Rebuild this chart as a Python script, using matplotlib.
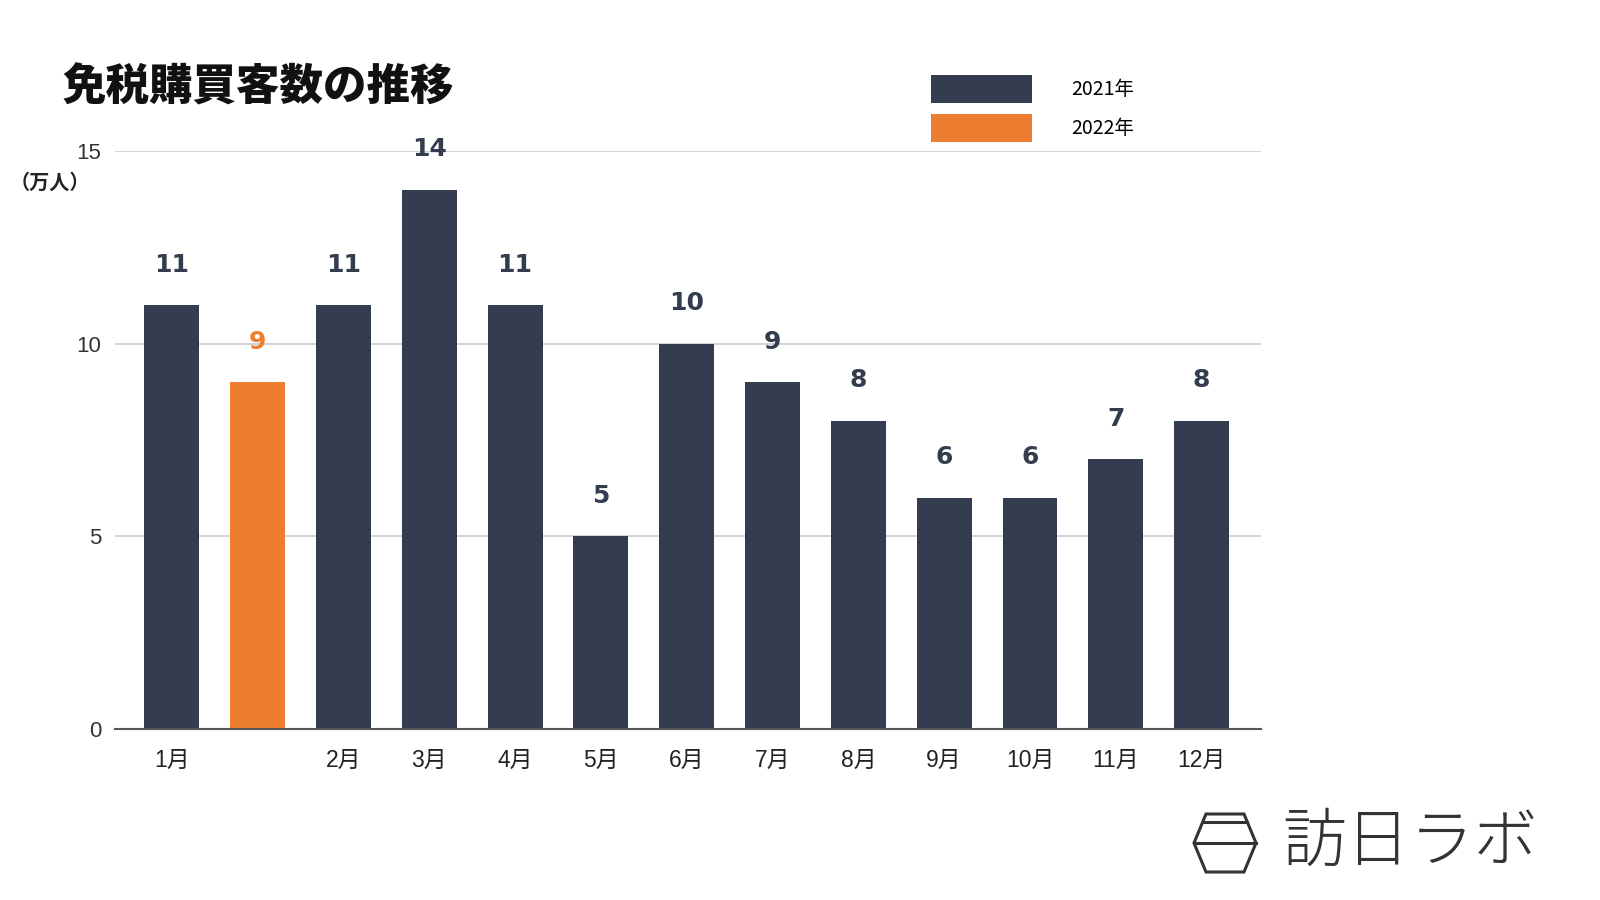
import matplotlib.pyplot as plt
from matplotlib.patches import Polygon, Patch
from matplotlib.lines import Line2D

plt.rcParams['font.family'] = ['Noto Sans CJK JP', 'DejaVu Sans']
tick_fam = ['Liberation Sans', 'Noto Sans CJK JP']

# data
months = ['1月', '', '2月', '3月', '4月', '5月', '6月', '7月', '8月', '9月', '10月', '11月', '12月']
values = [11, 9, 11, 14, 11, 5, 10, 9, 8, 6, 6, 7, 8]
years = ['2021年', '2022年', '2021年', '2021年', '2021年', '2021年', '2021年',
         '2021年', '2021年', '2021年', '2021年', '2021年', '2021年']

navy = '#333d4f'
orange = '#ed7d31'
year_colors = {'2021年': navy, '2022年': orange}
colors = [year_colors[y] for y in years]

fig = plt.figure(figsize=(16, 9), dpi=100)
ax = fig.add_axes([0.072, 0.19, 0.716, 0.642])

x = range(len(values))
ax.bar(x, values, width=0.64, color=colors, zorder=3)
for i, v in enumerate(values):
    ax.text(i, v + 1.05, str(v), ha='center', va='center', fontsize=18,
            fontweight='heavy', color=colors[i], family='DejaVu Sans')

ax.set_xlim(-0.66, 12.69)
ax.set_ylim(0, 15)
ax.set_yticks([0, 5, 10, 15])
ax.set_yticklabels(['0', '5', '10', '15'], fontsize=16, color='#333333', family=tick_fam)
ax.set_xticks(list(x))
ax.set_xticklabels(months, fontsize=16.5, color='#222222', family=tick_fam)
ax.tick_params(axis='both', length=0)
ax.tick_params(axis='x', pad=14)
ax.tick_params(axis='y', pad=10)
ax.grid(axis='y', color='#cccccc', linewidth=1.2, zorder=0)
for s in ['top', 'right', 'left']:
    ax.spines[s].set_visible(False)
ax.spines['bottom'].set_color('#555555')
ax.spines['bottom'].set_linewidth(1.5)
ax.spines['bottom'].set_zorder(4)

# title and unit
fig.text(0.039, 0.903, '免税購買客数の推移', fontsize=31.3, fontweight='black',
         ha='left', va='center', color='#111111')
fig.text(0.006, 0.798, '（万人）', fontsize=14.5, fontweight='bold',
         ha='left', va='center', color='#222222')

# legend
handles = [Patch(facecolor=navy), Patch(facecolor=orange)]
fig.legend(handles, ['2021年', '2022年'], loc='upper left',
           bbox_to_anchor=(0.571, 0.936), frameon=False, fontsize=14,
           handlelength=5.2, handleheight=1.8, handletextpad=2.0,
           labelspacing=0.6)

# logo
hx, hy = 1225, 57
hw, hh = 31, 29
pts = [(hx - hw, hy), (hx - 19, hy + hh), (hx + 19, hy + hh),
       (hx + hw, hy), (hx + 19, hy - hh), (hx - 19, hy - hh)]
fig.add_artist(Polygon([(px / 1600, py / 900) for px, py in pts], closed=True,
                       fill=False, edgecolor='#333333', linewidth=2.2,
                       transform=fig.transFigure))
fig.add_artist(Line2D([(hx - hw) / 1600, (hx + hw) / 1600], [hy / 900, hy / 900],
                      color='#333333', linewidth=2.2, transform=fig.transFigure))
fig.add_artist(Line2D([(hx - 22) / 1600, (hx + 22) / 1600], [(hy + 21) / 900, (hy + 21) / 900],
                      color='#333333', linewidth=2.2, transform=fig.transFigure))
fig.text(1282 / 1600, hy / 900, '訪日ラボ', fontsize=46, fontweight='light',
         ha='left', va='center', color='#333333')

fig.savefig('out.png', dpi=100)
